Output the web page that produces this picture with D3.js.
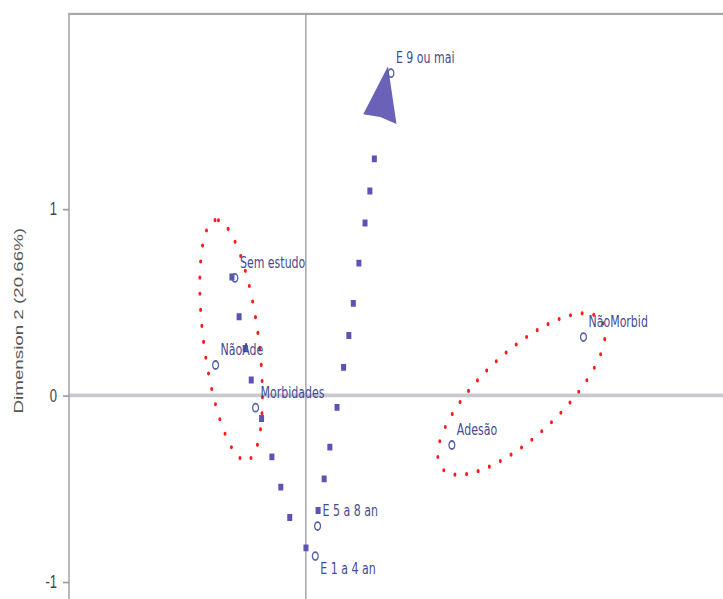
<!DOCTYPE html>
<html>
<head>
<meta charset="utf-8">
<script src="https://cdn.jsdelivr.net/npm/d3@7"></script>
<style>
  html, body { margin: 0; padding: 0; background: #fff; }
  svg { display: block; }
</style>
</head>
<body>
<svg id="chart" width="723" height="599"></svg>
<script>
// Category coordinates on the first two dimensions
const categories = ["E 9 ou mai", "Sem estudo", "NãoAde", "Morbidades", "Adesão", "NãoMorbid", "E 5 a 8 an", "E 1 a 4 an"];
const dim1 = [0.630, -0.525, -0.668, -0.372, 1.081, 2.055, 0.087, 0.070];
const dim2 = [1.728, 0.630, 0.163, -0.066, -0.266, 0.313, -0.701, -0.862];
const labelsBelow = ["E 1 a 4 an"];

// Axis ticks and title
const yTicks = [-1, 0, 1];
const yTickLabels = ["-1", "0", "1"];
const yTitle = "Dimension 2 (20.66%)";

// Education trajectory: down from "Sem estudo" to "E 1 a 4 an", then up to "E 9 ou mai"
const trendDownX = [-0.547, -0.495, -0.406, -0.251, -0.118, 0.001];
const trendDownY = [0.635, 0.426, 0.088, -0.330, -0.657, -0.818];
const trendUpX = [0.001, 0.090, 0.134, 0.230, 0.319, 0.393, 0.474, 0.548];
const trendUpY = [-0.818, -0.620, -0.454, -0.068, 0.324, 0.710, 1.096, 1.482];
const arrowTip = [0.608, 1.766];

// Grouping ellipses: centre, semi-axes and rotation (degrees)
const ellipseCx = [-0.553, 1.596];
const ellipseCy = [0.296, 0.007];
const ellipseA = [0.655, 0.714];
const ellipseB = [0.202, 0.249];
const ellipseAngle = [100.5, 32];

// ---- layout ----
const stretch = 1.38;          // vertical aspect of the plot
const unit = 135.1;            // pixels per unit on both dimensions
const plotLeft = 69, plotTop = 10.1;
const xDomain = [-1.753, 3.2];
const yDomain = [-1.3, 2.046];

const x = d3.scaleLinear().domain(xDomain).range([plotLeft, plotLeft + (xDomain[1] - xDomain[0]) * unit]);
const y = d3.scaleLinear().domain(yDomain).range([plotTop + (yDomain[1] - yDomain[0]) * unit, plotTop]);

const svg = d3.select("#chart");
const g = svg.append("g").attr("transform", `scale(1,${stretch})`);

// reference lines through the origin
g.append("line")
  .attr("x1", plotLeft).attr("x2", x.range()[1])
  .attr("y1", y(0)).attr("y2", y(0))
  .attr("stroke", "#c9c9d0").attr("stroke-width", 2.6);
g.append("line")
  .attr("x1", x(0)).attr("x2", x(0))
  .attr("y1", plotTop).attr("y2", y.range()[0])
  .attr("stroke", "#a9a9b1").attr("stroke-width", 1.6);

// frame
g.append("rect")
  .attr("x", plotLeft).attr("y", plotTop)
  .attr("width", x.range()[1] - plotLeft)
  .attr("height", y.range()[0] - plotTop)
  .attr("fill", "none")
  .attr("stroke", "#a6a6ae").attr("stroke-width", 1.6);

// y axis
const yAxis = d3.axisLeft(y)
  .tickValues(yTicks)
  .tickFormat((d, i) => yTickLabels[i])
  .tickSize(6)
  .tickPadding(6);
const ax = g.append("g").attr("transform", `translate(${plotLeft},0)`).call(yAxis);
ax.select(".domain").remove();
ax.selectAll(".tick line").attr("stroke", "#9a9aa2").attr("stroke-width", 1.2);
ax.selectAll(".tick text")
  .attr("fill", "#444")
  .style("font-family", "'Liberation Sans', Arial, sans-serif")
  .style("font-size", "13px");

g.append("text")
  .attr("transform", `translate(18.5,${(y(yDomain[1]) + y(-1.2)) / 2 + 3}) rotate(-90)`)
  .attr("text-anchor", "middle")
  .attr("dy", "0.35em")
  .attr("fill", "#555")
  .style("font-family", "'Liberation Sans', Arial, sans-serif")
  .style("font-size", "13.6px")
  .text(yTitle);

// grouping ellipses, red dotted
const ellipseLine = d3.line().x(d => x(d[0])).y(d => y(d[1])).curve(d3.curveLinearClosed);
ellipseCx.forEach((cx, i) => {
  const th = ellipseAngle[i] * Math.PI / 180;
  const ux = Math.cos(th), uy = Math.sin(th);
  const pts = d3.range(0, 360, 2).map(deg => {
    const t = deg * Math.PI / 180;
    const a = ellipseA[i] * Math.cos(t), b = ellipseB[i] * Math.sin(t);
    return [cx + a * ux - b * uy, ellipseCy[i] + a * uy + b * ux];
  });
  g.append("path")
    .attr("d", ellipseLine(pts))
    .attr("fill", "none")
    .attr("stroke", "#ff1a1a")
    .attr("stroke-width", 3)
    .attr("stroke-linecap", "round")
    .attr("stroke-dasharray", "0 11.7");
});

// education trajectory, blue dotted with an arrowhead
const trendLine = d3.line().x(d => x(d[0])).y(d => y(d[1]));
const trendColor = "#5c54b2";
[[trendDownX, trendDownY], [trendUpX, trendUpY]].forEach(([xs, ys]) => {
  g.append("path")
    .attr("d", trendLine(xs.map((v, i) => [v, ys[i]])))
    .attr("fill", "none")
    .attr("stroke", trendColor)
    .attr("stroke-width", 5)
    .attr("stroke-linecap", "square")
    .attr("stroke-dasharray", "0 29.7 0 23.7 0 23.7 0 29.7");
});

const bx = x(trendUpX[trendUpX.length - 1]), by = y(trendUpY[trendUpY.length - 1]);
const tx = x(arrowTip[0]), ty = y(arrowTip[1]);
const len = Math.hypot(tx - bx, ty - by);
const dx = (tx - bx) / len, dy = (ty - by) / len;
const half = 17;
g.append("path")
  .attr("d", `M${tx},${ty}L${bx - dy * half},${by + dx * half}` +
             `L${bx + dx * 1.5},${by + dy * 1.5}` +
             `L${bx + dy * half},${by - dx * half}Z`)
  .attr("fill", "#6a62b8");

// category markers and labels
const pts = categories.map((c, i) => ({ name: c, px: x(dim1[i]), py: y(dim2[i]) }));
g.selectAll("ellipse.pt").data(pts).join("ellipse")
  .attr("class", "pt")
  .attr("cx", d => d.px).attr("cy", d => d.py)
  .attr("rx", 2.9).attr("ry", 2.9)
  .attr("fill", "none")
  .attr("stroke", "#5660a8")
  .attr("stroke-width", 1.3);

g.selectAll("text.lbl").data(pts).join("text")
  .attr("class", "lbl")
  .attr("x", d => d.px + 5)
  .attr("y", d => d.py + (labelsBelow.includes(d.name) ? 13 : -7.2))
  .attr("fill", "#454a94")
  .style("font-family", "'DejaVu Sans', sans-serif")
  .style("font-size", "11px")
  .text(d => d.name);
</script>
</body>
</html>
